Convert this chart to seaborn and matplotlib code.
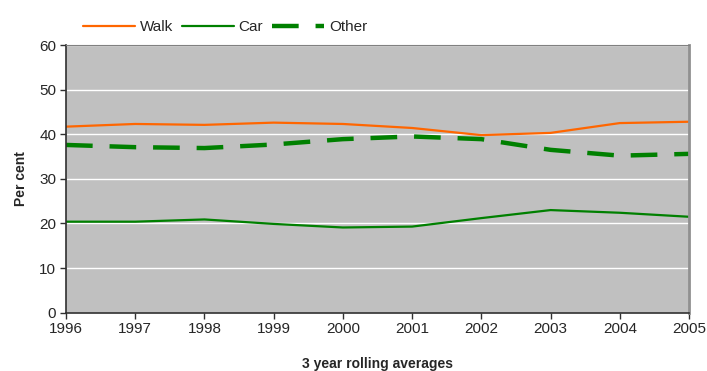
import pandas as pd
import matplotlib
matplotlib.use('Agg')
import matplotlib.pyplot as plt
import seaborn as sns

# 数据
years = [1996, 1997, 1998, 1999, 2000, 2001, 2002, 2003, 2004, 2005]
walk = [41.7, 42.3, 42.1, 42.6, 42.3, 41.4, 39.8, 40.3, 42.5, 42.8]
car = [20.4, 20.4, 20.9, 19.9, 19.1, 19.3, 21.2, 23.0, 22.4, 21.5]
other = [37.6, 37.1, 36.9, 37.7, 38.9, 39.5, 38.9, 36.5, 35.2, 35.6]

sns.set_style('white')
plt.rcParams['font.family'] = ['Liberation Sans', 'DejaVu Sans']

df = pd.DataFrame({'year': years, 'Walk': walk, 'Car': car, 'Other': other})

fig = plt.figure(figsize=(7.07, 3.71), dpi=100)
ax = fig.add_axes([66 / 707, (371 - 312.7) / 371, (689 - 66) / 707, (312.7 - 45) / 371])
ax.set_facecolor('#C0C0C0')

sns.lineplot(data=df, x='year', y='Walk', ax=ax, color='#FF6600', linewidth=1.6, label='Walk')
sns.lineplot(data=df, x='year', y='Car', ax=ax, color='#008000', linewidth=1.6, label='Car')
sns.lineplot(data=df, x='year', y='Other', ax=ax, color='#008000', linewidth=3.2,
             dashes=False, label='Other').lines[-1].set_dashes([6, 3.8])

ax.set_xlim(1996, 2005)
ax.set_ylim(0, 60)
ax.set_xticks(years)
ax.set_yticks(range(0, 61, 10))
ax.tick_params(axis='both', labelsize=11, direction='out', length=4, width=1,
               color='#303030', left=True, bottom=True, pad=3)
ax.yaxis.grid(True, color='white', linewidth=1)
ax.set_axisbelow(True)

for side in ['left', 'bottom']:
    ax.spines[side].set_color('#303030')
    ax.spines[side].set_linewidth(1.2)
ax.spines['top'].set_color('#808080')
ax.spines['right'].set_color('#909090')
ax.spines['right'].set_linewidth(2)

ax.set_xlabel('3 year rolling averages', fontsize=10, fontweight='bold', labelpad=15)
ax.set_ylabel('Per cent', fontsize=10, fontweight='bold', labelpad=8)

ax.get_legend().remove()
handles, labels = ax.get_legend_handles_labels()
fig.legend(handles, labels, loc='center', bbox_to_anchor=(225 / 707, 1 - 27 / 371),
           ncol=3, frameon=False, fontsize=11, handlelength=3.4, handletextpad=0.3,
           columnspacing=0.6)

fig.savefig('out.png', dpi=100)
